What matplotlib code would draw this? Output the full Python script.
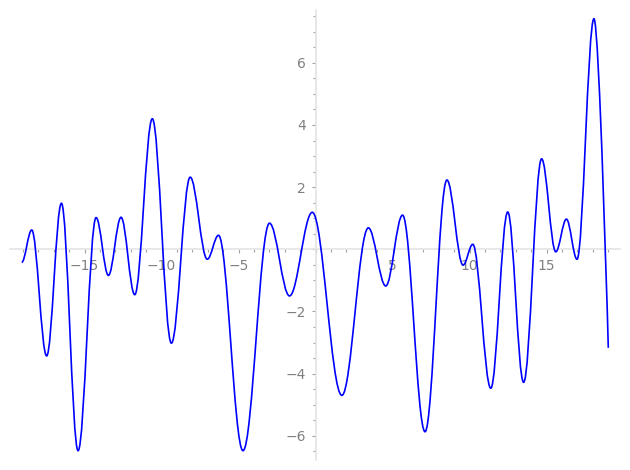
import matplotlib
matplotlib.use('Agg')
import matplotlib.pyplot as plt
from matplotlib.path import Path
from matplotlib.patches import PathPatch
from matplotlib.ticker import MultipleLocator, FuncFormatter

# turning points of the curve (first and last are the ends)
x_pts = [-19.08, -18.43, -17.46, -16.50, -15.42, -14.25, -13.45, -12.63, -11.74,
         -10.60, -9.36, -8.14, -7.03, -6.30, -4.71, -2.99, -1.69, -0.21,
         1.71, 3.43, 4.56, 5.65, 7.11, 8.53, 9.58, 10.21, 11.38, 12.48,
         13.51, 14.68, 15.60, 16.29, 16.98, 18.08, 19.01]
y_pts = [-0.42, 0.62, -3.43, 1.48, -6.48, 1.02, -0.84, 1.03, -1.46,
         4.20, -3.02, 2.32, -0.32, 0.45, -6.48, 0.84, -1.50, 1.19,
         -4.70, 0.69, -1.18, 1.10, -5.87, 2.23, -0.51, 0.16, -4.47, 1.20,
         -4.28, 2.91, -0.08, 0.97, -0.32, 7.42, -3.17]

K = 0.363  # bezier handle so each half wave looks like a sine arc

fig = plt.figure(figsize=(6.3, 4.7), dpi=100)
ax = fig.add_axes([10/630, 10/470, 610/630, 450/470])

verts = [(x_pts[0], y_pts[0])]
codes = [Path.MOVETO]
for i in range(len(x_pts) - 1):
    x1, y1 = x_pts[i], y_pts[i]
    x2, y2 = x_pts[i+1], y_pts[i+1]
    dx = x2 - x1
    c2 = (x2 - K*dx, y2)
    if i == len(x_pts) - 2:
        c2 = (x2, y2)  # curve is cut off mid-fall, no flat end
    verts += [(x1 + K*dx, y1), c2, (x2, y2)]
    codes += [Path.CURVE4] * 3
ax.add_patch(PathPatch(Path(verts, codes), fill=False, edgecolor=(0, 0, 1), lw=1.2, zorder=3))

ax.set_xlim(-19.84, 19.77)
ax.set_ylim(-6.78, 7.70)

for side in ['top', 'right']:
    ax.spines[side].set_visible(False)
for side in ['left', 'bottom']:
    ax.spines[side].set_position(('data', 0))
    ax.spines[side].set_color('#e4e4e4')
    ax.spines[side].set_linewidth(1.2)

ax.xaxis.set_major_locator(MultipleLocator(5))
ax.xaxis.set_minor_locator(MultipleLocator(1))
ax.yaxis.set_major_locator(MultipleLocator(2))
ax.yaxis.set_minor_locator(MultipleLocator(0.5))

fmt = FuncFormatter(lambda v, p: '' if abs(v) < 1e-9 else ('%g' % v).replace('-', '\u2212'))
ax.xaxis.set_major_formatter(fmt)
ax.yaxis.set_major_formatter(fmt)

ax.tick_params(which='both', direction='out', color='#a0a0a0', labelcolor='#808080', labelsize=10)
ax.tick_params(which='major', length=3, width=0.8)
ax.tick_params(which='minor', length=2, width=0.8)
ax.tick_params(axis='x', pad=4)
ax.tick_params(axis='y', pad=4)

fig.savefig('out.png', dpi=100)
